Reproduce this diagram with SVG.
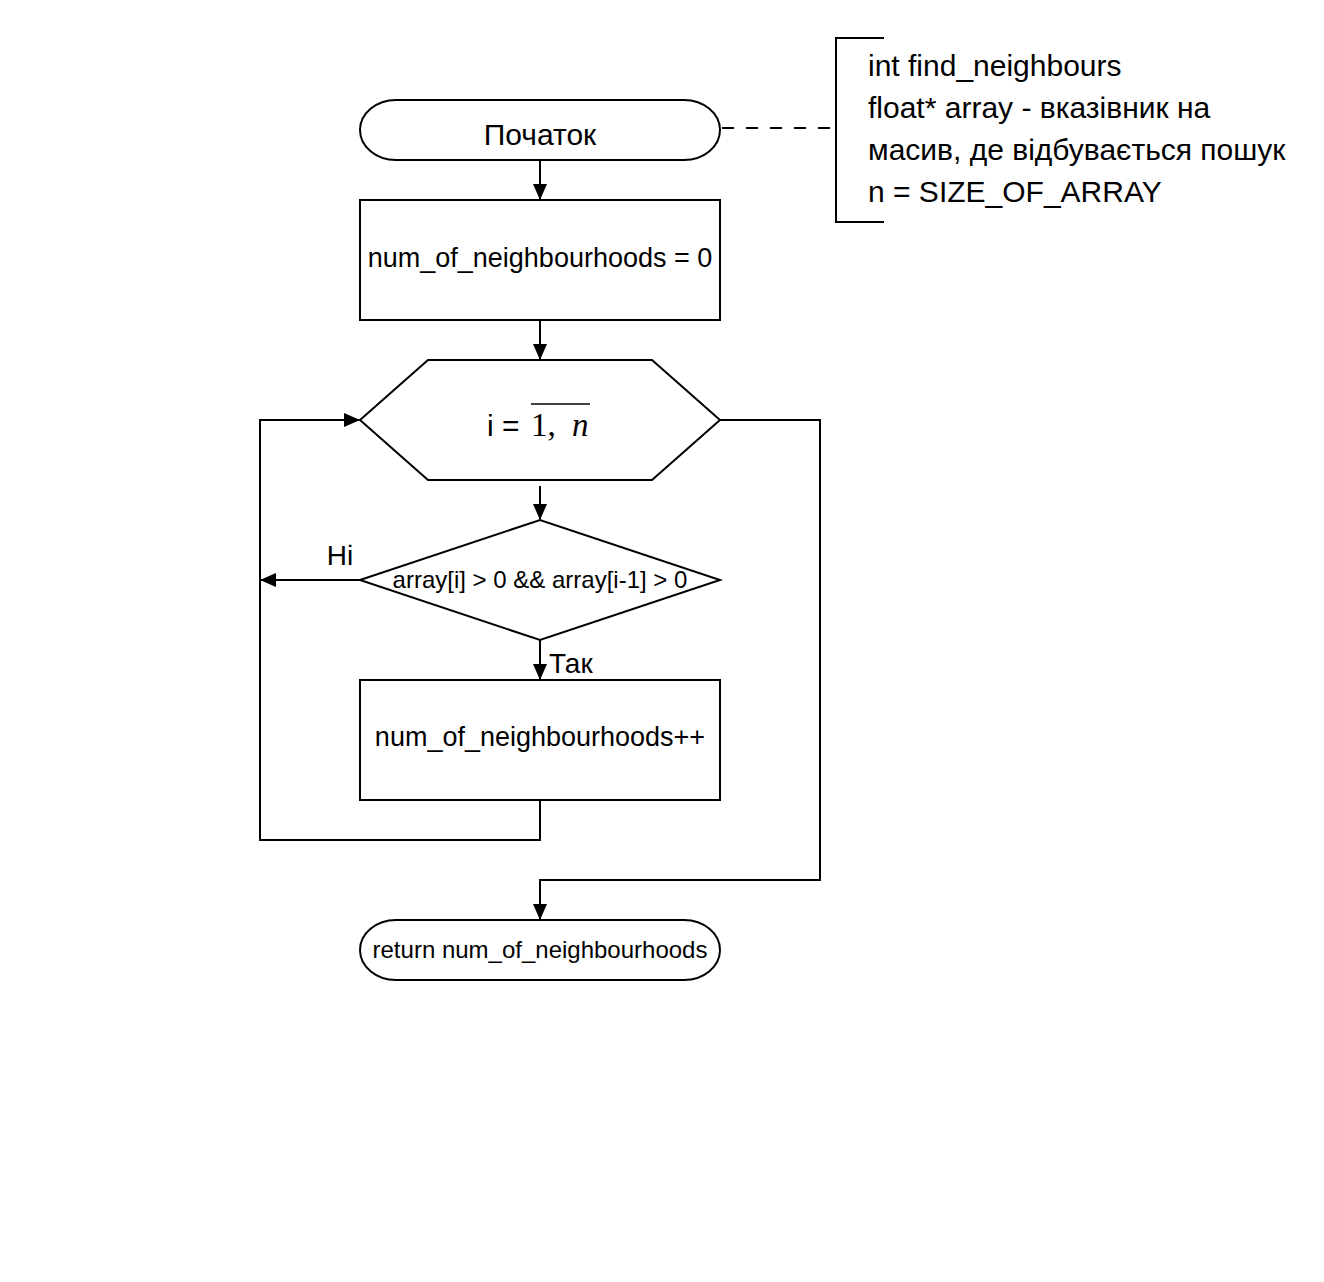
<svg xmlns="http://www.w3.org/2000/svg" width="1324" height="1282" viewBox="0 0 1324 1282">
<style>
.s{fill:#fff;stroke:#000;stroke-width:2}
.e{fill:none;stroke:#000;stroke-width:2}
.t{font-family:"Liberation Sans",Arial,sans-serif;fill:#000}
.c{text-anchor:middle}
</style>
<defs>
<marker id="a" markerWidth="16" markerHeight="16" refX="15" refY="8" orient="auto" markerUnits="userSpaceOnUse">
<path d="M0,1 L16,8 L0,15 Z" fill="#000"/>
</marker>
</defs>
<rect width="1324" height="1282" fill="#fff"/>
<g id="edges">
<path class="e" d="M540,160 V199" marker-end="url(#a)"/>
<path class="e" d="M540,320 V359" marker-end="url(#a)"/>
<path class="e" d="M540,486 V519" marker-end="url(#a)"/>
<path class="e" d="M360,580 H261" marker-end="url(#a)"/>
<path class="e" d="M540,640 V679" marker-end="url(#a)"/>
<path class="e" d="M540,800 V840 H260 V420 H359" marker-end="url(#a)"/>
<path class="e" d="M720,420 H820 V880 H540 V919" marker-end="url(#a)"/>
<path class="e" d="M722,128 H836" stroke-dasharray="12 12"/>
<text class="t c" x="340" y="565" font-size="28">Ні</text>
<text class="t" x="549" y="673" font-size="28">Так</text>
</g>
<g id="start">
<rect class="s" x="360" y="100" width="360" height="60" rx="36" ry="30"/>
<text class="t c" x="540" y="145" font-size="30">Початок</text>
</g>
<g id="init">
<rect class="s" x="360" y="200" width="360" height="120"/>
<text class="t c" x="540" y="267" font-size="27">num_of_neighbourhoods = 0</text>
</g>
<g id="loop">
<polygon class="s" points="360,420 428,360 652,360 720,420 652,480 428,480"/>
<text class="t" x="487" y="436" font-size="30">i =</text>
<text x="531" y="436" font-size="33" font-family="Liberation Serif,serif">1,</text>
<text x="572" y="436" font-size="33" font-style="italic" font-family="Liberation Serif,serif">n</text>
<line x1="531" y1="404" x2="590" y2="404" stroke="#000" stroke-width="1.6"/>
</g>
<g id="cond">
<polygon class="s" points="360,580 540,520 720,580 540,640"/>
<text class="t c" x="540" y="588" font-size="24">array[i] &gt; 0 &amp;&amp; array[i-1] &gt; 0</text>
</g>
<g id="inc">
<rect class="s" x="360" y="680" width="360" height="120"/>
<text class="t c" x="540" y="746" font-size="27">num_of_neighbourhoods++</text>
</g>
<g id="end">
<rect class="s" x="360" y="920" width="360" height="60" rx="36" ry="30"/>
<text class="t c" x="540" y="958" font-size="24">return num_of_neighbourhoods</text>
</g>
<g id="note">
<path class="e" d="M884,38 H836 V222 H884"/>
<text class="t" font-size="30">
<tspan x="868" y="76">int find_neighbours</tspan>
<tspan x="868" y="118">float* array - вказівник на</tspan>
<tspan x="868" y="160">масив, де відбувається пошук</tspan>
<tspan x="868" y="202">n = SIZE_OF_ARRAY</tspan>
</text>
</g>
</svg>
